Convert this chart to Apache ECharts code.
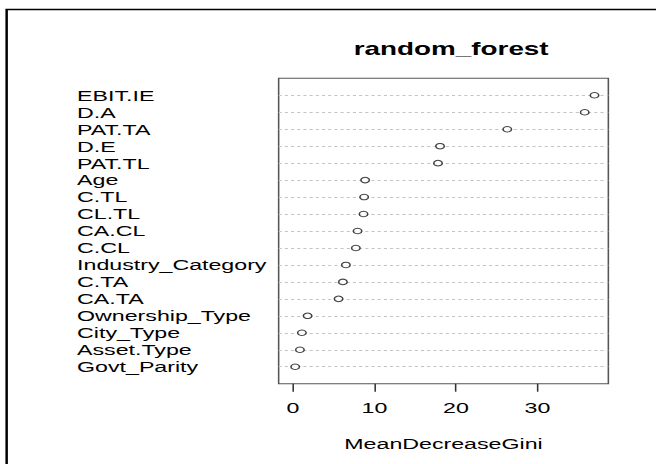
<!DOCTYPE html>
<html>
<head>
<meta charset="utf-8">
<script src="https://cdn.jsdelivr.net/npm/echarts@6/dist/echarts.min.js"></script>
<style>
  html, body { margin: 0; padding: 0; background: #fff; overflow: hidden; width: 656px; height: 464px; }
  #chart { width: 424px; height: 464px; transform: scaleX(1.5472); transform-origin: 0 0; }
</style>
</head>
<body>
<div id="chart"></div>
<script>
// Variables, top to bottom as in the dot chart
const categories = ['EBIT.IE', 'D.A', 'PAT.TA', 'D.E', 'PAT.TL', 'Age', 'C.TL', 'CL.TL', 'CA.CL', 'C.CL',
  'Industry_Category', 'C.TA', 'CA.TA', 'Ownership_Type', 'City_Type', 'Asset.Type', 'Govt_Parity'];
const meanDecreaseGini = [37.0, 35.8, 26.3, 18.05, 17.8, 8.86, 8.74, 8.66, 7.93, 7.72,
  6.5, 6.13, 5.6, 1.8, 1.1, 0.86, 0.28];
const xTickValues = [0, 10, 20, 30];
const chartTitle = 'random_forest';
const xAxisName = 'MeanDecreaseGini';

const n = categories.length;
const points = categories.map((c, i) => [meanDecreaseGini[i], n - i]);
const font = '"Liberation Sans", Arial, sans-serif';

const chart = echarts.init(document.getElementById('chart'), null, { renderer: 'svg' });
chart.setOption({
  animation: false,
  backgroundColor: '#fff',
  title: {
    text: chartTitle,
    left: 286.6,
    textAlign: 'center',
    top: 35,
    textStyle: { fontFamily: font, fontSize: 18, fontWeight: 'bold', color: '#000' }
  },
  graphic: [{
    type: 'rect',
    silent: true,
    shape: { x: 4.3, y: 9.5, width: 600, height: 600 },
    style: { fill: 'none', stroke: '#000', lineWidth: 1.6 }
  }],
  grid: {
    left: 180.1, right: 30.8, top: 78.3, bottom: 80.3,
    show: true, borderColor: '#555', borderWidth: 1, backgroundColor: 'transparent',
    outerBoundsMode: 'none'
  },
  xAxis: {
    type: 'value',
    min: -1.75,
    max: 38.7,
    axisLine: { show: false },
    axisTick: { show: true, customValues: xTickValues, length: 8, lineStyle: { color: '#333', width: 1 } },
    axisLabel: { customValues: xTickValues, margin: 16, fontFamily: font, fontSize: 15, color: '#000' },
    splitLine: { show: false },
    name: xAxisName,
    nameLocation: 'middle',
    nameGap: 52,
    nameTextStyle: { fontFamily: font, fontSize: 15, color: '#000' }
  },
  yAxis: {
    type: 'value',
    min: 0,
    max: n + 1,
    interval: 1,
    axisLine: { show: false },
    axisTick: { show: false },
    axisLabel: {
      align: 'left',
      margin: 130.3,
      fontFamily: font,
      fontSize: 15,
      color: '#000',
      showMinLabel: false,
      showMaxLabel: false,
      formatter: v => (v >= 1 && v <= n) ? categories[n - v] : ''
    },
    splitLine: {
      show: true,
      showMinLine: false,
      showMaxLine: false,
      lineStyle: { color: '#c4c4c4', type: [2, 2], width: 1 }
    }
  },
  series: [{
    type: 'scatter',
    data: points,
    symbol: 'circle',
    symbolSize: 5.5,
    itemStyle: { color: '#fff', borderColor: '#111', borderWidth: 1 },
    emphasis: { disabled: true },
    z: 5
  }]
});
</script>
</body>
</html>
